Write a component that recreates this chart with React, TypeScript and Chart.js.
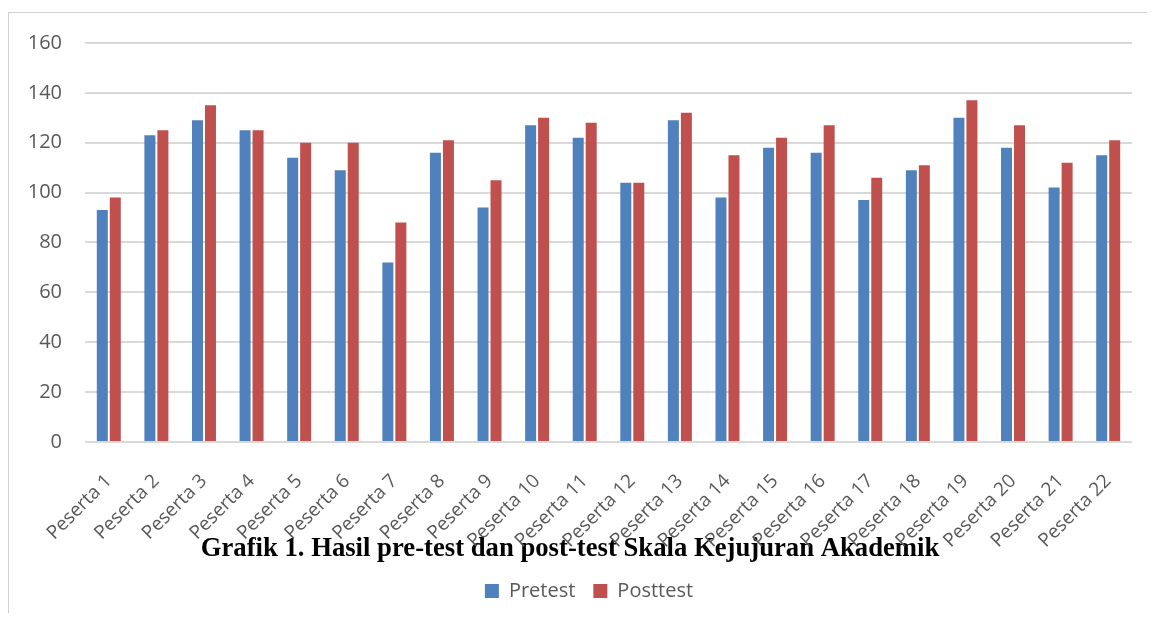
import React, { useEffect, useRef } from "react";
import { Chart, registerables } from "chart.js";

Chart.register(...registerables);

const categories = [
  "Peserta 1", "Peserta 2", "Peserta 3", "Peserta 4", "Peserta 5", "Peserta 6",
  "Peserta 7", "Peserta 8", "Peserta 9", "Peserta 10", "Peserta 11", "Peserta 12",
  "Peserta 13", "Peserta 14", "Peserta 15", "Peserta 16", "Peserta 17", "Peserta 18",
  "Peserta 19", "Peserta 20", "Peserta 21", "Peserta 22",
];
const pretest = [93, 123, 129, 125, 114, 109, 72, 116, 94, 127, 122, 104, 129, 98, 118, 116, 97, 109, 130, 118, 102, 115];
const posttest = [98, 125, 135, 125, 120, 120, 88, 121, 105, 130, 128, 104, 132, 115, 122, 127, 106, 111, 137, 127, 112, 121];
const yTicks = [0, 20, 40, 60, 80, 100, 120, 140, 160];
const seriesNames = ["Pretest", "Posttest"];
const titleText = "Grafik 1. Hasil pre-test dan post-test Skala Kejujuran Akademik";

const W = 1147;
const H = 605;
const LEGEND_SHIFT = 19;

const legendShift = {
  id: "legendShift",
  afterLayout(chart: any) {
    if (chart.legend) {
      chart.legend.left += LEGEND_SHIFT;
      chart.legend.right += LEGEND_SHIFT;
    }
  },
};

export default function App() {
  const ref = useRef<HTMLCanvasElement | null>(null);

  useEffect(() => {
    if (!ref.current) return;
    const chart = new Chart(ref.current, {
      type: "bar",
      data: {
        labels: categories,
        datasets: [
          {
            label: seriesNames[0],
            data: pretest,
            backgroundColor: "#4F81BD",
            borderWidth: 0,
            categoryPercentage: 0.546,
            barPercentage: 0.846,
          },
          {
            label: seriesNames[1],
            data: posttest,
            backgroundColor: "#C0504D",
            borderWidth: 0,
            categoryPercentage: 0.546,
            barPercentage: 0.846,
          },
        ],
      },
      plugins: [legendShift],
      options: {
        responsive: false,
        animation: false,
        devicePixelRatio: 1,
        layout: { padding: { left: 0, right: 23, top: 34, bottom: 2 } },
        scales: {
          x: {
            grid: { display: false },
            border: { display: false },
            ticks: {
              minRotation: 45,
              maxRotation: 45,
              autoSkip: false,
              padding: 20,
              color: "#595959",
              font: { family: "'Open Sans'", size: 19 },
            },
            afterFit: (s: any) => {
              s.height = 110;
            },
          },
          y: {
            min: 0,
            max: 160,
            border: { display: false },
            grid: { color: "#d9d9d9", lineWidth: 2, drawTicks: false },
            afterBuildTicks: (s: any) => {
              s.ticks = yTicks.map((v) => ({ value: v }));
            },
            afterFit: (s: any) => {
              s.width = 77;
            },
            ticks: {
              padding: 23,
              color: "#595959",
              font: { family: "'Open Sans'", size: 20 },
            },
          },
        },
        plugins: {
          title: {
            display: true,
            text: titleText,
            position: "bottom",
            weight: 500,
            color: "#000000",
            font: { family: "'Liberation Serif'", size: 26.7, weight: "bold" },
            padding: { top: -19, bottom: -2 },
          } as any,
          legend: {
            position: "bottom",
            labels: {
              boxWidth: 14,
              boxHeight: 14,
              padding: 18,
              color: "#595959",
              font: { family: "'Open Sans'", size: 20 },
            },
          },
          tooltip: { enabled: false },
        },
      },
    });
    return () => chart.destroy();
  }, []);

  return (
    <div style={{ position: "relative", width: W, height: H }}>
      <div
        style={{
          position: "absolute",
          left: 0,
          top: 4,
          width: W - 1,
          height: H - 5,
          borderTop: "1px solid #d0d0d0",
          borderLeft: "1px solid #d0d0d0",
        }}
      />
      <canvas
        ref={ref}
        width={W}
        height={H}
        style={{ position: "absolute", left: 0, top: 0, width: W, height: H }}
      />
    </div>
  );
}
